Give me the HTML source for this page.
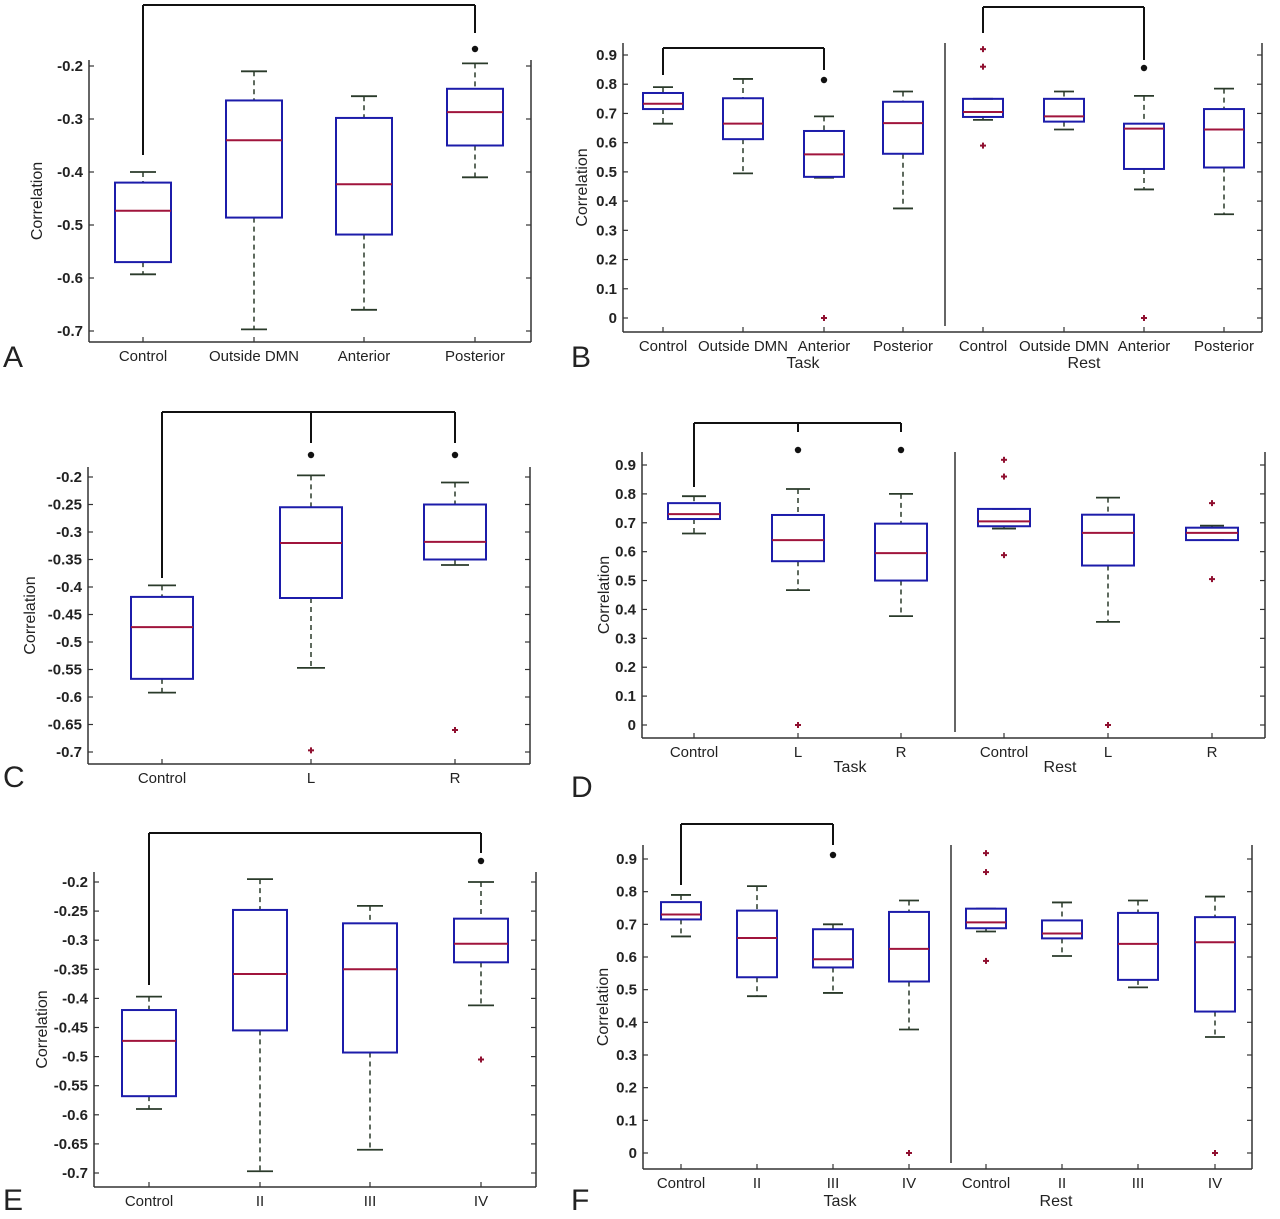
<!DOCTYPE html>
<html><head><meta charset="utf-8"><style>
html,body{margin:0;padding:0;background:#fff;}
svg{display:block;font-family:"Liberation Sans",sans-serif;}
</style></head><body>
<svg id="s" width="1280" height="1219" viewBox="0 0 1280 1219" xmlns="http://www.w3.org/2000/svg"></svg>
<script>
var out=[];
function L(x1,y1,x2,y2,c,w,d){out.push('<line x1="'+x1+'" y1="'+y1+'" x2="'+x2+'" y2="'+y2+'" stroke="'+c+'" stroke-width="'+(w||1.5)+'"'+(d?' stroke-dasharray="'+d+'"':'')+'/>');}
function T(x,y,t,sz,anc,extra){out.push('<text x="'+x+'" y="'+y+'" font-size="'+sz+'" text-anchor="'+(anc||'middle')+'" fill="#222" '+(extra||'')+'>'+t+'</text>');}
function panel(p){
  var y=function(v){return p.y0+(v-p.v0)*(p.y1-p.y0)/(p.v1-p.v0);};
  L(p.l,p.top,p.l,p.bot,'#333',1.5);L(p.r,p.top,p.r,p.bot,'#333',1.5);L(p.l,p.bot,p.r,p.bot,'#333',1.5);
  if(p.div)L(p.div,p.top,p.div,p.bot-6,'#333',1.5);
  p.ticks.forEach(function(v){var yy=y(v);L(p.l,yy,p.l+5,yy,'#333',1.2);L(p.r-5,yy,p.r,yy,'#333',1.2);
    T(p.l-6,yy+5,p.fmt(v),15,'end','font-weight="bold"');});
  p.cats.forEach(function(c,i){L(c,p.bot,c,p.bot-5,'#333',1.2);T(c,p.bot+19,p.names[i],15,'middle');});
  if(p.groups)p.groups.forEach(function(g){T(g[0],g[1],g[2],16,'middle');});
  var cy=(p.top+p.bot)/2;
  T(p.yl,cy,'Correlation',16,'middle','transform="rotate(-90 '+p.yl+' '+cy+')"');
  p.boxes.forEach(function(b,i){var x=p.cats[i],h=p.hw,cw=p.cw;
    L(x,y(b[4]),x,y(b[1]),'#2a3a2a',1.5,'5,4');L(x,y(b[0]),x,y(b[3]),'#2a3a2a',1.5,'5,4');
    L(x-cw,y(b[4]),x+cw,y(b[4]),'#2a3a2a',1.8);L(x-cw,y(b[3]),x+cw,y(b[3]),'#2a3a2a',1.8);
    out.push('<rect x="'+(x-h)+'" y="'+y(b[1])+'" width="'+(2*h)+'" height="'+(y(b[0])-y(b[1]))+'" fill="none" stroke="#1c1caa" stroke-width="2"/>');
    L(x-h,y(b[2]),x+h,y(b[2]),'#a0143c',2);
    (b[5]||[]).forEach(function(o){var yy=y(o);L(x-3,yy,x+3,yy,'#901030',2);L(x,yy-3,x,yy+3,'#901030',2);});
  });
  p.br.forEach(function(b){L(b[0],b[1],b[2],b[1],'#111',2);L(b[0],b[1],b[0],b[3],'#111',2);L(b[2],b[1],b[2],b[4],'#111',2);
    if(b[5])L(b[5],b[1],b[5],b[6],'#111',2);});
  p.stars.forEach(function(s){out.push('<circle cx="'+s[0]+'" cy="'+s[1]+'" r="3.2" fill="#111"/>');});
  T(p.let[0],p.let[1],p.let[2],30,'start','fill="#000"');
}
var f1=function(v){return v.toFixed(1);},f2=function(v){var s=v.toFixed(2);if(s[s.length-1]=='0')s=v.toFixed(1);return s;};
var fB=function(v){return v==0?'0':v.toFixed(1);};
var negT1=[-0.2,-0.3,-0.4,-0.5,-0.6,-0.7];
var negT2=[-0.2,-0.25,-0.3,-0.35,-0.4,-0.45,-0.5,-0.55,-0.6,-0.65,-0.7];
var posT=[0,0.1,0.2,0.3,0.4,0.5,0.6,0.7,0.8,0.9];
panel({l:89,r:531,top:60,bot:342,v0:-0.2,y0:66,v1:-0.7,y1:331,ticks:negT1,fmt:f1,cats:[143,254,364,475],
 names:['Control','Outside DMN','Anterior','Posterior'],yl:42,hw:28,cw:13,
 boxes:[[-0.57,-0.42,-0.473,-0.593,-0.4],[-0.486,-0.265,-0.34,-0.697,-0.21],[-0.518,-0.298,-0.423,-0.66,-0.257],[-0.35,-0.243,-0.287,-0.41,-0.195]],
 br:[[143,5,475,155,33]],stars:[[475,49]],let:[3,367,'A']});
panel({l:623,r:1262,top:43,bot:332,v0:0.9,y0:55,v1:0,y1:318,ticks:posT,fmt:fB,div:945,
 cats:[663,743,824,903,983,1064,1144,1224],names:['Control','Outside DMN','Anterior','Posterior','Control','Outside DMN','Anterior','Posterior'],
 groups:[[803,368,'Task'],[1084,368,'Rest']],yl:587,hw:20,cw:10,
 boxes:[[0.715,0.77,0.733,0.665,0.79],[0.612,0.752,0.665,0.495,0.818],[0.483,0.64,0.56,0.48,0.69,[0]],[0.562,0.74,0.667,0.375,0.775],
 [0.688,0.75,0.705,0.678,0.75,[0.92,0.86,0.59]],[0.672,0.75,0.69,0.645,0.775],[0.51,0.665,0.648,0.44,0.76,[0]],[0.515,0.715,0.645,0.355,0.785]],
 br:[[663,48,824,75,70],[983,7,1144,33,60]],stars:[[824,80],[1144,68]],let:[571,367,'B']});
panel({l:88,r:530,top:467,bot:764,v0:-0.2,y0:477,v1:-0.7,y1:752,ticks:negT2,fmt:f2,cats:[162,311,455],
 names:['Control','L','R'],yl:35,hw:31,cw:14,
 boxes:[[-0.567,-0.418,-0.473,-0.592,-0.397],[-0.42,-0.255,-0.32,-0.547,-0.197,[-0.697]],[-0.35,-0.25,-0.318,-0.36,-0.21,[-0.66]]],
 br:[[162,412,455,578,443,311,443]],stars:[[311,455],[455,455]],let:[3,787,'C']});
panel({l:642,r:1265,top:452,bot:738,v0:0.9,y0:465,v1:0,y1:725,ticks:posT,fmt:fB,div:955,
 cats:[694,798,901,1004,1108,1212],names:['Control','L','R','Control','L','R'],
 groups:[[850,772,'Task'],[1060,772,'Rest']],yl:609,hw:26,cw:12,
 boxes:[[0.713,0.768,0.73,0.663,0.792],[0.567,0.727,0.64,0.467,0.817,[0]],[0.5,0.697,0.595,0.377,0.8],
 [0.688,0.748,0.705,0.68,0.748,[0.918,0.86,0.588]],[0.552,0.728,0.665,0.357,0.787,[0]],[0.64,0.683,0.665,0.64,0.69,[0.768,0.505]]],
 br:[[694,423,901,487,432,798,432]],stars:[[798,450],[901,450]],let:[571,797,'D']});
panel({l:94,r:536,top:872,bot:1187,v0:-0.2,y0:882,v1:-0.7,y1:1173,ticks:negT2,fmt:f2,cats:[149,260,370,481],
 names:['Control','II','III','IV'],yl:47,hw:27,cw:13,
 boxes:[[-0.568,-0.42,-0.473,-0.59,-0.397],[-0.455,-0.248,-0.358,-0.697,-0.195],[-0.493,-0.271,-0.35,-0.66,-0.241],[-0.338,-0.263,-0.306,-0.412,-0.2,[-0.505]]],
 br:[[149,833,481,985,853]],stars:[[481,861]],let:[3,1210,'E']});
panel({l:643,r:1252,top:845,bot:1169,v0:0.9,y0:859,v1:0,y1:1153,ticks:posT,fmt:fB,div:951,
 cats:[681,757,833,909,986,1062,1138,1215],names:['Control','II','III','IV','Control','II','III','IV'],
 groups:[[840,1206,'Task'],[1056,1206,'Rest']],yl:608,hw:20,cw:10,
 boxes:[[0.715,0.768,0.73,0.663,0.79],[0.538,0.742,0.658,0.48,0.817],[0.568,0.685,0.593,0.49,0.7],[0.525,0.738,0.625,0.378,0.773,[0]],
 [0.688,0.748,0.706,0.678,0.748,[0.918,0.86,0.588]],[0.657,0.712,0.672,0.603,0.767],[0.53,0.735,0.64,0.507,0.773],[0.433,0.722,0.645,0.355,0.785,[0]]],
 br:[[681,824,833,885,845]],stars:[[833,855]],let:[571,1210,'F']});
document.getElementById('s').innerHTML=out.join('');
</script>
</body></html>
